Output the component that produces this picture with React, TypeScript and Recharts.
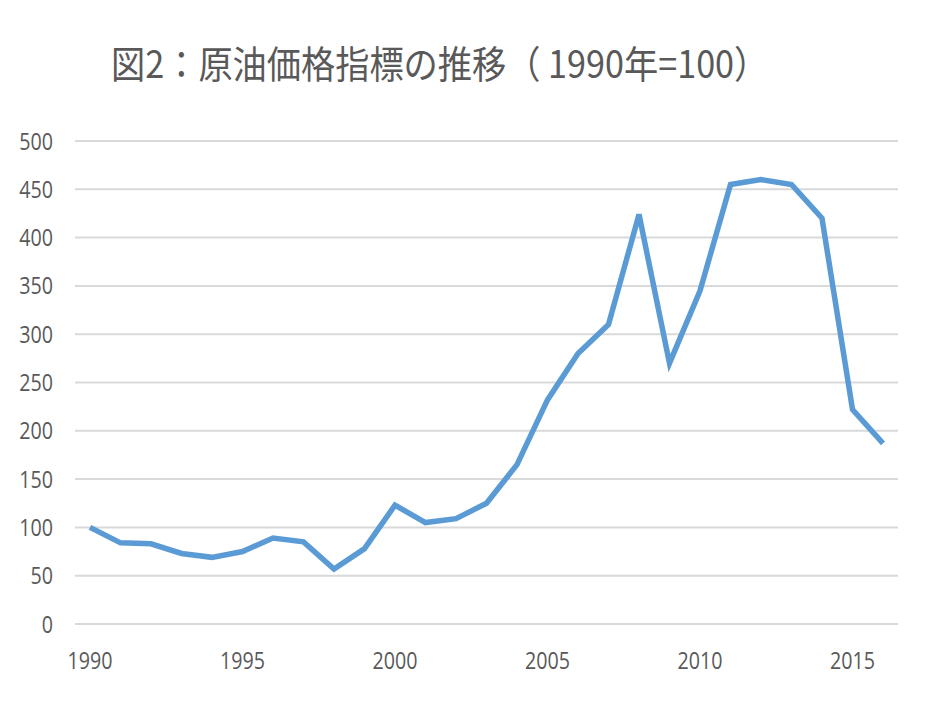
import { LineChart, Line, XAxis, YAxis, CartesianGrid } from 'recharts';

const years = [
  1990, 1991, 1992, 1993, 1994, 1995, 1996, 1997, 1998, 1999, 2000, 2001, 2002, 2003,
  2004, 2005, 2006, 2007, 2008, 2009, 2010, 2011, 2012, 2013, 2014, 2015, 2016,
];
const crudeIndex = [
  100, 84, 83, 73, 69, 75, 89, 85, 57, 78, 123, 105, 109, 125,
  165, 232, 280, 310, 424, 270, 345, 455, 460, 455, 420, 222, 187,
];
const yTicks = [0, 50, 100, 150, 200, 250, 300, 350, 400, 450, 500];

const data = years.map((year, i) => ({ year, value: crudeIndex[i] }));

const textColor = '#595959';

// narrow-looking tick labels, like the Excel original
const NarrowTick = (props: any) => {
  const { x, y, payload, textAnchor, verticalAnchor } = props;
  const dy = verticalAnchor === 'start' ? '0.71em' : '0.355em';
  return (
    <g transform={`translate(${x},${y}) scale(0.82,1)`}>
      <text
        x={0}
        y={0}
        dy={dy}
        textAnchor={textAnchor}
        fontSize={24}
        fill={textColor}
        fontFamily='"Open Sans", sans-serif'
      >
        {payload.value}
      </text>
    </g>
  );
};

export default function App() {
  return (
    <div
      style={{
        position: 'relative',
        width: 934,
        height: 701,
        margin: -8,
        boxSizing: 'border-box',
        border: '1px solid #d9d9d9',
        background: '#fff',
      }}
    >
      <div
        style={{
          position: 'absolute',
          top: 42,
          left: 110,
          fontSize: 38,
          lineHeight: 1,
          color: textColor,
          fontFamily: '"Noto Sans CJK JP", sans-serif',
          whiteSpace: 'nowrap',
          transform: 'scaleX(0.9)',
          transformOrigin: 'left top',
        }}
      >
        図2：原油価格指標の推移（ 1990年=100）
      </div>
      <LineChart width={932} height={699} data={data} margin={{ top: 140, right: 35, bottom: 0, left: 0 }}>
        <CartesianGrid horizontal vertical={false} stroke="#d9d9d9" strokeWidth={2} />
        <XAxis
          dataKey="year"
          interval={4}
          padding={{ left: 15, right: 15 }}
          axisLine={false}
          tickLine={false}
          tickSize={0}
          tickMargin={28}
          height={76}
          tick={<NarrowTick />}
        />
        <YAxis
          domain={[0, 500]}
          ticks={yTicks}
          axisLine={false}
          tickLine={false}
          tickSize={0}
          tickMargin={22}
          width={74}
          tick={<NarrowTick />}
        />
        <Line
          type="linear"
          dataKey="value"
          stroke="#5b9bd5"
          strokeWidth={5.5}
          dot={false}
          isAnimationActive={false}
        />
      </LineChart>
    </div>
  );
}
